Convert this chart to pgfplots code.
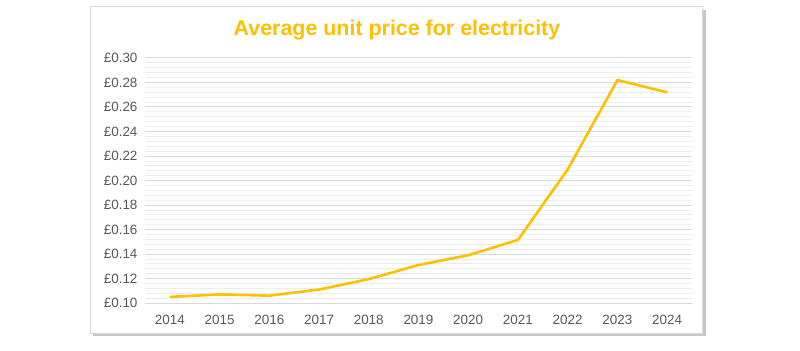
\documentclass[border=0pt]{standalone}
\usepackage{pgfplots}
\pgfplotsset{compat=1.18}
\usepackage{fontspec}
\setmainfont{Liberation Sans}
\definecolor{gold}{HTML}{FFC000}
\definecolor{lbl}{HTML}{595959}
\definecolor{majgrid}{HTML}{D9D9D9}
\definecolor{mingrid}{HTML}{EDEDED}
\begin{document}
\begin{tikzpicture}[x=1bp,y=1bp]
\fill[white] (0,0) rectangle (800,350);
% frame with shadow
\fill[black!22] (93,14) rectangle (706,340);
\fill[white,draw=majgrid,line width=1bp] (90,17) rectangle (702,343);
\node[font=\fontsize{21.5}{25}\selectfont\bfseries, text=gold] at (397,320) {Average unit price for electricity};
\begin{axis}[
  at={(145bp,47bp)}, anchor=south west,
  width=547bp, height=245bp, scale only axis,
  xmin=2013.5, xmax=2024.5,
  ymin=0.10, ymax=0.30,
  axis line style={draw=none},
  tick style={draw=none},
  xtick={2014,...,2024},
  xticklabels={2014,2015,2016,2017,2018,2019,2020,2021,2022,2023,2024},
  ytick={0.10,0.12,...,0.301},
  yticklabels={£0.10,£0.12,£0.14,£0.16,£0.18,£0.20,£0.22,£0.24,£0.26,£0.28,£0.30},
  minor y tick num=4,
  ymajorgrids, yminorgrids,
  major grid style={majgrid, line width=1bp},
  minor grid style={mingrid, line width=0.8bp},
  ticklabel style={font=\fontsize{13.5}{16}\selectfont, text=lbl},
  yticklabel style={xshift=-4bp},
  xticklabel style={yshift=-9bp},
  clip=false,
]
\addplot[gold, line width=2.6bp, line join=round] coordinates {
(2014,0.105) (2015,0.107) (2016,0.106) (2017,0.111) (2018,0.1195)
(2019,0.131) (2020,0.139) (2021,0.1515) (2022,0.209) (2023,0.282) (2024,0.272)
};
\end{axis}
\end{tikzpicture}
\end{document}
